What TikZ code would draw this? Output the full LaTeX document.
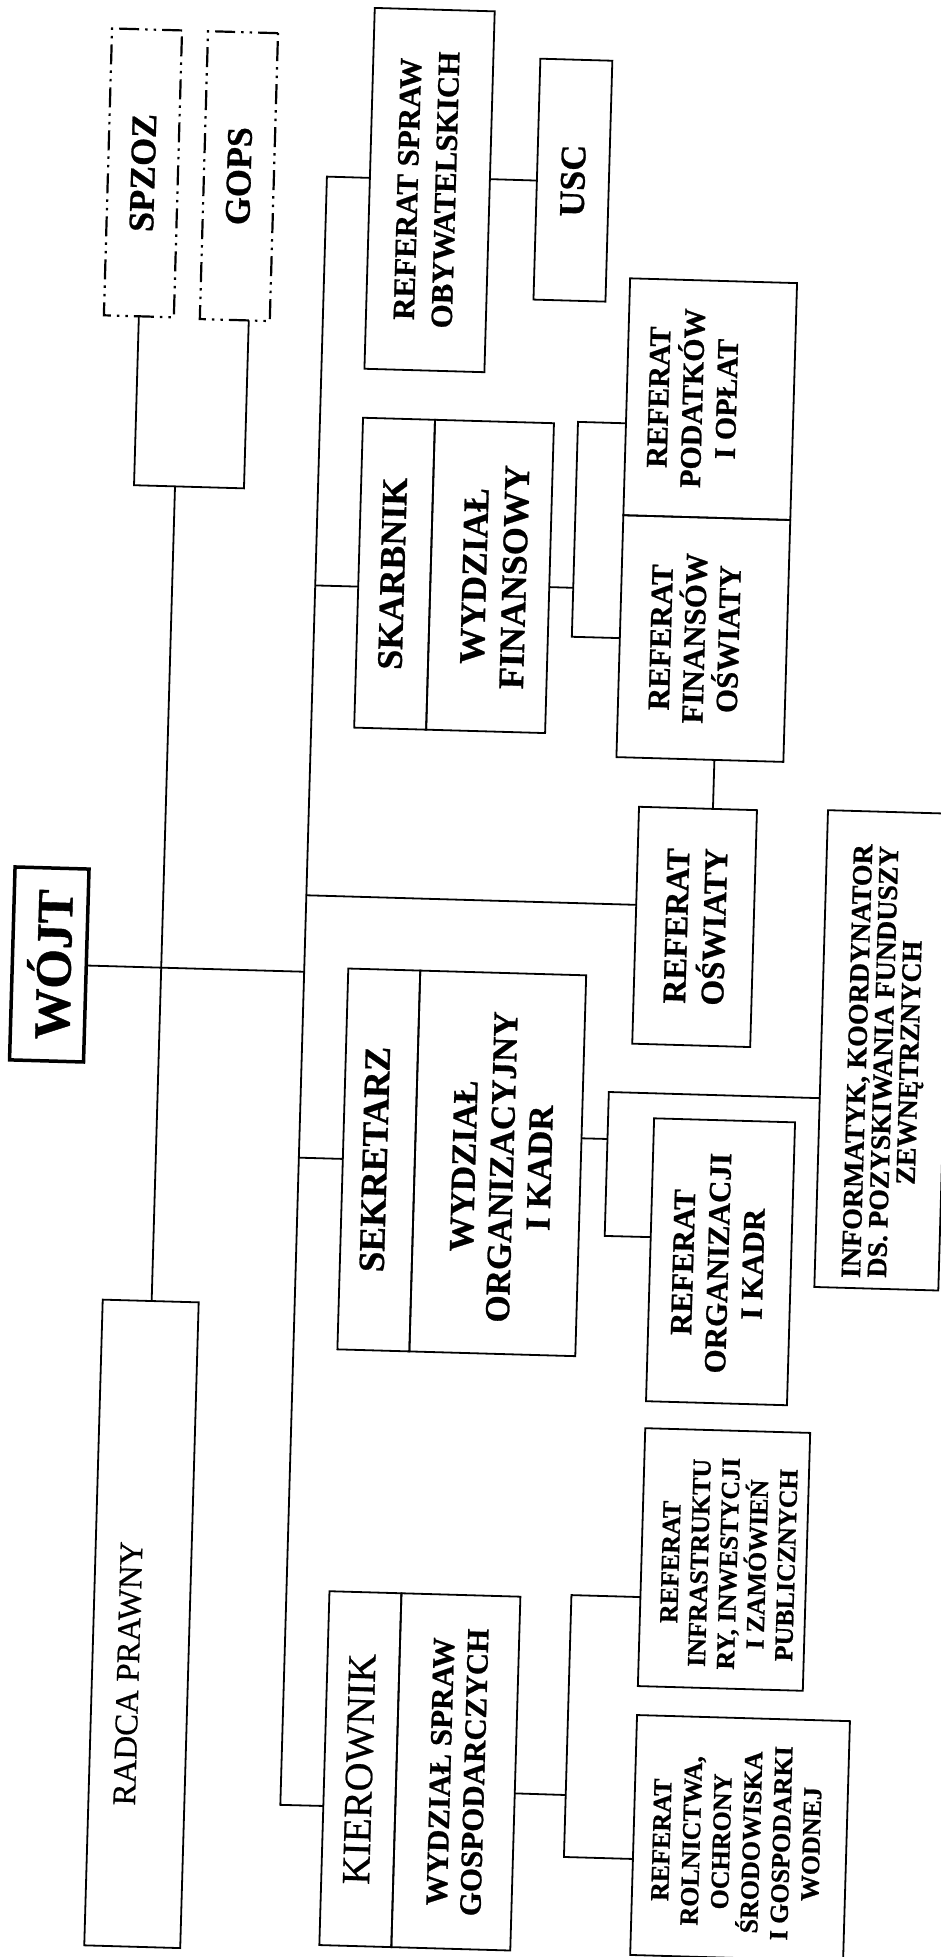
\documentclass[tikz,border=0pt]{standalone}
\usepackage{fontspec}
\setmainfont{Liberation Serif}[BoldFeatures={FakeBold=0.8},UprightFeatures={FakeBold=0.6}]
\usetikzlibrary{calc}
\newcommand\fsz[2]{\fontsize{#1}{#2}\selectfont}
\tikzset{
  box/.style={draw, line width=1.8pt, inner sep=0pt, outer sep=0pt, rectangle},
  ddbox/.style={box, line width=2.2pt, dash pattern=on 20pt off 6pt on 2.5pt off 6pt on 2.5pt off 6pt},
  lbl/.style={rotate=90, align=center, inner sep=0pt},
  conn/.style={line width=1.8pt},
}
\begin{document}
\begin{tikzpicture}[x=1pt,y=-1pt]
\fill[white] (0,0) rectangle (941,1957);
\useasboundingbox (0,0) rectangle (941,1957);
\begin{scope}[rotate around={-1.64:(470,980)}, transform shape]
% boxes
\node[ddbox, minimum width=70, minimum height=287] (spzoz) at (120,182.5) {};
\node[ddbox, minimum width=70, minimum height=288] (gops) at (216,183) {};
\node[box, minimum width=120, minimum height=361] (roby) at (407,191.5) {};
\node[box, minimum width=72, minimum height=241] (usc) at (550,177.5) {};
\node[box, minimum width=167, minimum height=237] (podat) at (693.5,392.5) {};
\node[box, minimum width=167, minimum height=242] (finosw) at (693.5,632) {};
\node[box, minimum width=72, minimum height=310] (skarb) at (383,576) {};
\node[box, minimum width=119, minimum height=310] (wfin) at (478.5,576) {};
\node[box, minimum width=118, minimum height=237] (oswiaty) at (693,920.5) {};
\node[box, line width=3.5pt, minimum width=74, minimum height=193] (wojt) at (49,976.5) {};
\node[box, minimum width=72, minimum height=381] (sek) at (384,1162.5) {};
\node[box, minimum width=166, minimum height=381] (worg) at (503,1162.5) {};
\node[box, minimum width=141, minimum height=283] (reforg) at (728.5,1254.5) {};
\node[box, minimum width=124, minimum height=477] (inf) at (885,1038.5) {};
\node[box, minimum width=96, minimum height=646] (radca) at (160,1633) {};
\node[box, minimum width=72, minimum height=354] (kier) at (383,1772) {};
\node[box, minimum width=119, minimum height=354] (wsg) at (478.5,1772) {};
\node[box, minimum width=165, minimum height=258] (infra) at (740.5,1552) {};
\node[box, minimum width=213, minimum height=240] (roln) at (764.5,1830) {};
% labels
\node[lbl, font={\fsz{36}{40}\bfseries}] (tspzoz) at (120,182.5) {SPZOZ};
\node[lbl, font={\fsz{36}{40}\bfseries}] (tgops) at (216,183) {GOPS};
\node[lbl, font={\fsz{31}{38}\bfseries}] (troby) at (404,191) {REFERAT SPRAW\\OBYWATELSKICH};
\node[lbl, font={\fsz{36}{40}\bfseries}] (tusc) at (550,178) {USC};
\node[lbl, font={\fsz{30}{34}\bfseries}] (tpodat) at (676,392) {REFERAT\\PODATKÓW\\I OPŁAT};
\node[lbl, font={\fsz{31}{34}\bfseries}] (tfinosw) at (685,632) {REFERAT\\FINANSÓW\\OŚWIATY};
\node[lbl, font={\fsz{36}{40}\bfseries}] (tskarb) at (381,576) {SKARBNIK};
\node[lbl, font={\fsz{36}{40}\bfseries}] (twfin) at (483,576) {WYDZIAŁ\\FINANSOWY};
\node[lbl, font={\fsz{33}{38}\bfseries}] (toswiaty) at (694,920) {REFERAT\\OŚWIATY};
\node[lbl, font={\fsz{51}{56}\bfseries}] (twojt) at (49,976.5) {WÓJT};
\node[lbl, font={\fsz{37}{40}\bfseries}] (tsek) at (380,1162) {SEKRETARZ};
\node[lbl, font={\fsz{35}{38}\bfseries}] (tworg) at (507,1166) {WYDZIAŁ\\ORGANIZACYJNY\\I KADR};
\node[lbl, font={\fsz{31}{35}\bfseries}] (treforg) at (726,1256) {REFERAT\\ORGANIZACJI\\I KADR};
\node[lbl, font={\fsz{28}{26}\bfseries}] (tinf) at (888,1050) {INFORMATYK, KOORDYNATOR\\DS. POZYSKIWANIA FUNDUSZY\\ZEWNĘTRZNYCH};
\node[lbl, font={\fsz{33}{38}}] (tradca) at (148,1683) {RADCA PRAWNY};
\node[lbl, font={\fsz{40}{44}}] (tkier) at (382,1772) {KIEROWNIK};
\node[lbl, font={\fsz{31}{34}\bfseries}] (twsg) at (480,1772) {WYDZIAŁ SPRAW\\GOSPODARCZYCH};
\node[lbl, font={\fsz{26}{29}\bfseries}] (tinfra) at (745,1556) {REFERAT\\INFRASTRUKTU\\RY, INWESTYCJI\\I ZAMÓWIEŃ\\PUBLICZNYCH};
\node[lbl, font={\fsz{26}{30}\bfseries}] (troln) at (761,1834) {REFERAT\\ROLNICTWA,\\OCHRONY\\ŚRODOWISKA\\I GOSPODARKI\\WODNEJ};
% junction coordinates
\coordinate (u1) at (120,495);
\coordinate (u2) at (230,495);
\coordinate (t1a) at (161,495);
\coordinate (t2top) at (304,181);
\coordinate (t2bot) at (304,1810);
\coordinate (t2w) at (304,976.5);
\coordinate (t2s) at (304,590);
\coordinate (t2o) at (304,900);
\coordinate (t2k) at (304,1162.5);
\coordinate (f1) at (562,585);
\coordinate (f2) at (562,419);
\coordinate (f3) at (562,634);
\coordinate (o1) at (612,1135);
\coordinate (o2) at (612,1088);
\coordinate (o3) at (612,1232);
\coordinate (g1) at (589,1792);
\coordinate (g2) at (589,1592);
\coordinate (g3) at (589,1854);
% connectors
\draw[conn] (spzoz.south) -- (u1) -- (u2) -- ($(gops.south west)!0.7!(gops.south east)$);
\draw[conn] (t1a) -- ($(radca.north west)!0.51!(radca.north east)$);
\draw[conn] (wojt.east) -- (t2w);
\draw[conn] ($(roby.north west)!0.471!(roby.south west)$) -- (t2top) -- (t2bot) -- ($(kier.north west)!0.607!(kier.south west)$);
\draw[conn] ($(roby.north east)!0.465!(roby.south east)$) -- ($(usc.north west)!0.506!(usc.south west)$);
\draw[conn] (t2s) -- ($(skarb.north west)!0.545!(skarb.south west)$);
\draw[conn] (t2o) -- ($(oswiaty.north west)!0.414!(oswiaty.south west)$);
\draw[conn] (t2k) -- (sek.west);
\draw[conn] ($(wfin.north east)!0.529!(wfin.south east)$) -- (f1);
\draw[conn] ($(podat.north west)!0.612!(podat.south west)$) -- (f2) -- (f3) -- ($(finosw.north west)!0.508!(finosw.south west)$);
\draw[conn] ($(finosw.south west)!0.587!(finosw.south east)$) -- ($(oswiaty.north west)!0.627!(oswiaty.north east)$);
\draw[conn] ($(worg.north east)!0.428!(worg.south east)$) -- (o1);
\draw[conn] ($(inf.north west)!0.604!(inf.south west)$) -- (o2) -- (o3) -- ($(reforg.north west)!0.42!(reforg.south west)$);
\draw[conn] ($(wsg.north east)!0.556!(wsg.south east)$) -- (g1);
\draw[conn] ($(infra.north west)!0.655!(infra.south west)$) -- (g2) -- (g3) -- ($(roln.north west)!0.6!(roln.south west)$);
\end{scope}
\end{tikzpicture}
\end{document}
